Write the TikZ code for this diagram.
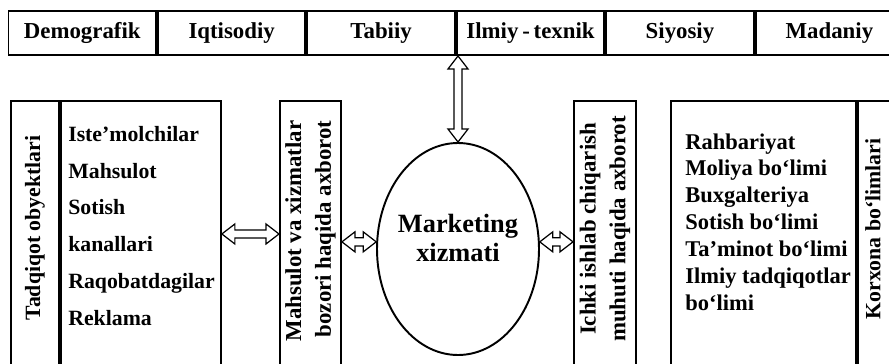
\documentclass[tikz,border=0pt]{standalone}
\usepackage{fontspec}
\setmainfont{Liberation Serif}
\usetikzlibrary{positioning,calc,shapes.geometric}

\newcommand{\bigbold}{\fontsize{13}{16}\selectfont\bfseries}

\tikzset{
    box/.style={draw, line width=1.1pt, inner sep=0pt},
    factor/.style={box, minimum width=2.95cm, minimum height=0.88cm, font=\bigbold},
    column/.style={box, anchor=north west, minimum height=5.6cm},
    txt/.style={font=\bigbold, inner sep=0pt},
    hollow/.style={draw, line width=0.7pt, fill=white,
        to path={let \p1=(\tikztostart), \p2=(\tikztotarget),
            \n1={atan2(\y2-\y1,\x2-\x1)}, \n2={veclen(\x2-\x1,\y2-\y1)-14.8pt} in
            -- ++(\n1+37.6:9.34pt) -- ++(\n1-90:3.4pt) -- ++(\n1:\n2)
            -- ++(\n1+90:3.4pt) -- ++(\n1-37.6:9.34pt)
            -- ++(\n1+217.6:9.34pt) -- ++(\n1+90:3.4pt) -- ++(\n1+180:\n2)
            -- ++(\n1-90:3.4pt) -- cycle}}
}

\begin{document}
\begin{tikzpicture}
    \useasboundingbox (0,0) rectangle (17.78,7.26);
    \clip (0,0) rectangle (17.78,7.26);

    % Tashqi muhit omillari
    \node[factor] (dem) at (1.645,6.6) {Demografik};
    \node[factor, right=0pt of dem] (iqt) {Iqtisodiy};
    \node[factor, right=0pt of iqt] (tab) {Tabiiy};
    \node[factor, right=0pt of tab] (ilm) {Ilmiy\,-\,texnik};
    \node[factor, right=0pt of ilm] (siy) {Siyosiy};
    \node[factor, right=0pt of siy] (mad) {Madaniy};

    % Ustunlar
    \node[column, minimum width=0.96cm] (tadq) at (0.2,5.26) {};
    \node[column, minimum width=3.2cm, right=0pt of tadq] (objs) {};
    \node[column, minimum width=1.22cm] (info) at (5.58,5.26) {};
    \node[column, minimum width=1.24cm] (inner) at (11.46,5.26) {};
    \node[column, minimum width=3.7cm] (dept) at (13.4,5.26) {};
    \node[column, minimum width=1cm, right=0pt of dept] (korx) {};

    % Marketing xizmati
    \node[box, ellipse, minimum width=3.24cm, minimum height=4.24cm] (mark) at (9.16,2.28) {};
    \node[txt, align=center, font=\fontsize{15}{16.5}\selectfont\bfseries]
        at ([yshift=0.22cm]mark.center) {Marketing\\xizmati};

    % Matnlar
    \node[txt, rotate=90, font=\fontsize{12.4}{15}\selectfont\bfseries]
        at ([yshift=-2.56cm]tadq.north) {Tadqiqot obyektlari};
    \node[txt, align=left, anchor=west, font=\fontsize{12.4}{21}\selectfont\bfseries]
        at ([xshift=0.16cm, yshift=0.3cm]objs.west)
        {Iste’molchilar\\Mahsulot\\Sotish\\kanallari\\Raqobatdagilar\\Reklama};
    \node[txt, rotate=90, align=right, font=\fontsize{13}{17}\selectfont\bfseries]
        at ([yshift=0.2cm]info.center) {Mahsulot va xizmatlar\\bozori haqida axborot};
    \node[txt, rotate=90, align=center, font=\fontsize{13}{17}\selectfont\bfseries]
        at ([yshift=0.24cm]inner.center) {Ichki ishlab chiqarish\\muhuti haqida axborot};
    \node[txt, align=left, anchor=west, font=\fontsize{12.8}{15.3}\selectfont\bfseries]
        at ([xshift=0.3cm, yshift=0.38cm]dept.west)
        {Rahbariyat\\Moliya bo‘limi\\Buxgalteriya\\Sotish bo‘limi\\Ta’minot bo‘limi\\Ilmiy tadqiqotlar\\bo‘limi};
    \node[txt, rotate=90, font=\fontsize{12.4}{15}\selectfont\bfseries]
        at ([xshift=-0.2cm, yshift=0.24cm]korx.center) {Korxona bo‘limlari};

    % Ikki tomonlama strelkalar
    \draw[hollow] (mark.north) to (mark.north |- ilm.south);
    \draw[hollow] ([yshift=0.14cm]objs.east) to ([yshift=0.14cm]info.west);
    \draw[hollow] (info.east |- mark.175) to (mark.175);
    \draw[hollow] (mark.5) to (inner.west |- mark.5);
\end{tikzpicture}
\end{document}
